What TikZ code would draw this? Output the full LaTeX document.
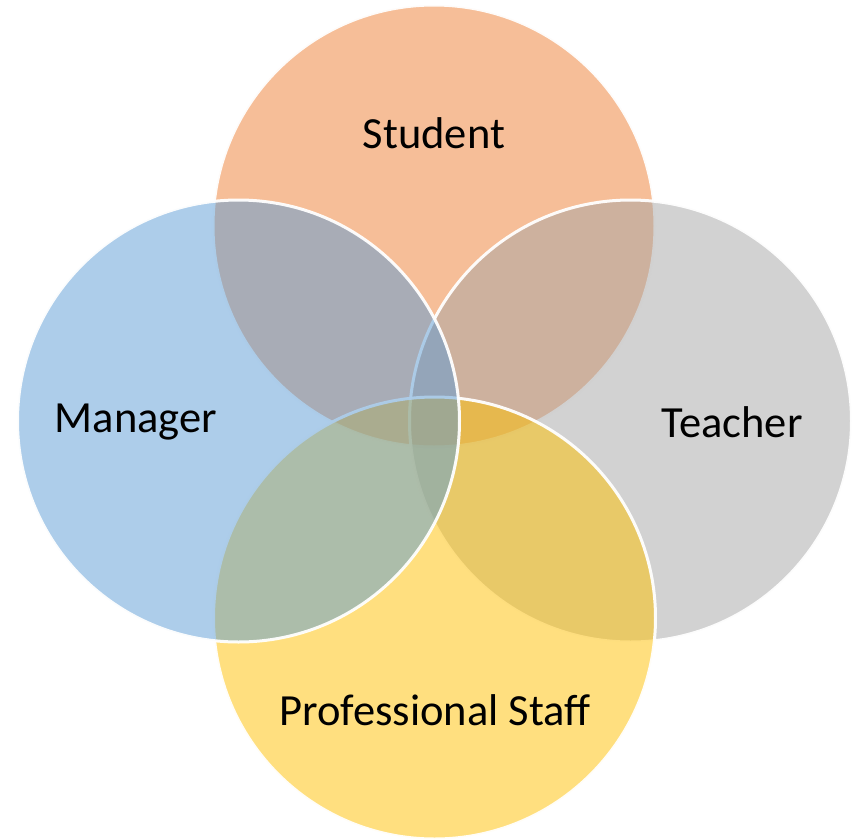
\documentclass[tikz,border=0pt]{standalone}
\usepackage{fontspec}
\setmainfont{Carlito}
\definecolor{accorange}{HTML}{ED7D31}
\definecolor{accblue}{HTML}{5B9BD5}
\definecolor{accgray}{HTML}{A5A5A5}
\definecolor{accgold}{HTML}{FFC000}
\tikzset{
  setcircle/.style={circle, minimum size=442pt, inner sep=0pt, draw=white, line width=3pt, fill opacity=0.5, draw opacity=0.95},
  setlabel/.style={font=\fontsize{44.5}{53}\selectfont, text=black}
}
\begin{document}
\begin{tikzpicture}[x=1pt, y=-1pt]
    \useasboundingbox (0, 0) rectangle (855, 839);
    % the four overlapping sets, manager last so it sits on top
    \node[setcircle, fill=accorange] (student) at (434, 226) {};
    \node[setcircle, fill=accgray] (teacher) at (630.5, 421) {};
    \node[setcircle, fill=accgold] (staff) at (434.5, 618) {};
    \node[setcircle, fill=accblue] (manager) at (238.5, 421) {};
    % names
    \node[setlabel] (studentlbl) at (434, 133) {Student};
    \node[setlabel] (managerlbl) at (136, 422) {Manager};
    \node[setlabel] (teacherlbl) at (732, 422) {Teacher};
    \node[setlabel] (stafflbl) at (435, 710) {Professional Staff};
\end{tikzpicture}
\end{document}
